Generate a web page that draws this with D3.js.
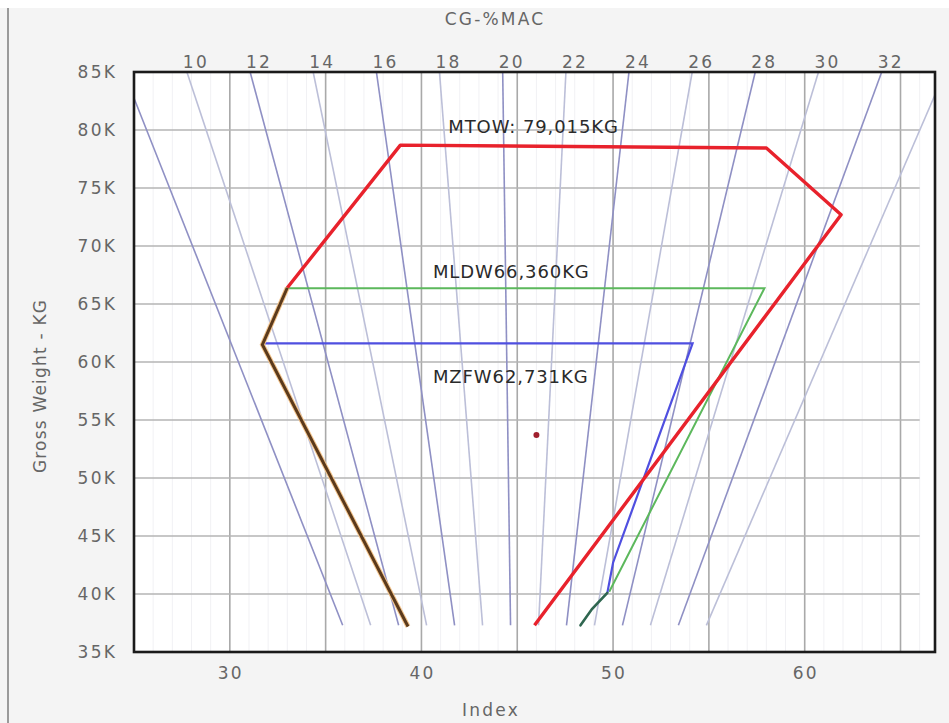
<!DOCTYPE html>
<html>
<head>
<meta charset="utf-8">
<script src="https://cdn.jsdelivr.net/npm/d3@7"></script>
<style>
  body { margin: 0; background: #f4f4f4; }
  svg { display: block; }
</style>
</head>
<body>
<div id="chart"></div>
<script>
// %MAC reference lines: index read at 85K (top) and at 37.3K (bottom end)
var macValues      = [8, 10, 12, 14, 16, 18, 20, 22, 24, 26, 28, 30, 32, 34];
var macTopIndex    = [24.46, 27.76, 31.06, 34.35, 37.65, 40.94, 44.24, 47.54, 50.83, 54.13, 57.42, 60.72, 64.02, 67.31];
var macBottomIndex = [35.89, 37.35, 38.81, 40.27, 41.73, 43.19, 44.65, 46.11, 47.57, 49.03, 50.49, 51.95, 53.41, 54.87];
var macWeights     = [37.3, 85];
var macLabels      = [10, 12, 14, 16, 18, 20, 22, 24, 26, 28, 30, 32];

// axes
var indexTicks  = [30, 40, 50, 60];
var indexGrid   = [30, 35, 40, 45, 50, 55, 60, 65];
var weightTicks = [35, 40, 45, 50, 55, 60, 65, 70, 75, 80, 85];

// envelope lines [index, weight in K]
var mtowLine  = [[45.9, 37.3], [61.9, 72.7], [58.0, 78.45], [38.9, 78.7], [33.0, 66.4]];
var fwdLimit  = [[33.0, 66.4], [31.7, 61.5], [39.3, 37.2]];
var mldwLine  = [[33.0, 66.36], [57.9, 66.36], [49.8, 40.2]];
var mzfwLine  = [[31.8, 61.6], [54.15, 61.6], [50.0, 42.7], [49.7, 40.1]];
var aftLimit  = [[49.7, 40.1], [48.9, 38.7], [48.3, 37.3]];
var cgPoint   = [46.0, 53.7];

var labelTexts  = ["MTOW: 79,015KG", "MLDW66,360KG", "MZFW62,731KG"];
var labelAnchor = [[41.4, 79.7], [40.6, 67.2], [40.6, 58.2]];

function main() {

    var width = 949,
        height = 723;

    var svg = d3.select("#chart").append("svg")
        .attr("width", width)
        .attr("height", height);

    var x = d3.scaleLinear().domain([25, 66.8]).range([134, 935]),
        y = d3.scaleLinear().domain([35, 85]).range([652, 72]);

    // page background: white strip on top, grey line on the left
    svg.append("rect").attr("x", 0).attr("y", 0).attr("width", width).attr("height", 8).attr("fill", "#fff");
    svg.append("line").attr("x1", 8).attr("x2", 8).attr("y1", 8).attr("y2", height)
        .attr("stroke", "#9a9a9a").attr("stroke-width", 2);

    // plot area
    svg.append("rect")
        .attr("x", x(25)).attr("y", y(85))
        .attr("width", x(66.8) - x(25)).attr("height", y(35) - y(85))
        .attr("fill", "#fff");

    svg.append("clipPath").attr("id", "plot")
        .append("rect")
        .attr("x", x(25)).attr("y", y(85))
        .attr("width", x(66.8) - x(25)).attr("height", y(35) - y(85));

    var g = svg.append("g").attr("clip-path", "url(#plot)");

    // faint minor grid
    g.append("g").selectAll("line")
        .data(d3.range(26, 67))
        .enter().append("line")
        .attr("x1", function(d) { return x(d); })
        .attr("x2", function(d) { return x(d); })
        .attr("y1", y(85)).attr("y2", y(35))
        .attr("stroke", "#f1f1f4").attr("stroke-width", 1);

    // major grid
    g.append("g").selectAll("line")
        .data(indexGrid)
        .enter().append("line")
        .attr("x1", function(d) { return x(d); })
        .attr("x2", function(d) { return x(d); })
        .attr("y1", y(85)).attr("y2", y(35))
        .attr("stroke", "#a9a9a9").attr("stroke-width", 1.6);

    g.append("g").selectAll("line")
        .data(weightTicks.slice(1, -1))
        .enter().append("line")
        .attr("x1", x(25)).attr("x2", x(66))
        .attr("y1", function(d) { return y(d); })
        .attr("y2", function(d) { return y(d); })
        .attr("stroke", "#b4b4b4").attr("stroke-width", 1.6);

    // %MAC lines, every other one darker
    g.append("g").selectAll("line")
        .data(macValues)
        .enter().append("line")
        .attr("x1", function(d, i) { return x(macBottomIndex[i]); })
        .attr("y1", y(macWeights[0]))
        .attr("x2", function(d, i) { return x(macTopIndex[i]); })
        .attr("y2", y(macWeights[1]))
        .attr("stroke", function(d) { return d % 4 === 0 ? "#8f90c4" : "#bcbfd8"; })
        .attr("stroke-width", 1.6);

    var line = d3.line()
        .x(function(d) { return x(d[0]); })
        .y(function(d) { return y(d[1]); });

    // envelopes
    g.append("path").datum(mldwLine).attr("d", line)
        .attr("fill", "none").attr("stroke", "#5cb85c").attr("stroke-width", 2);
    g.append("path").datum(mzfwLine).attr("d", line)
        .attr("fill", "none").attr("stroke", "#4f4fe0").attr("stroke-width", 2.2);
    g.append("path").datum(aftLimit).attr("d", line)
        .attr("fill", "none").attr("stroke", "#2f6650").attr("stroke-width", 2.6)
        .attr("stroke-linecap", "round");
    g.append("path").datum(mtowLine).attr("d", line)
        .attr("fill", "none").attr("stroke", "#e8222c").attr("stroke-width", 3.4)
        .attr("stroke-linejoin", "round");
    // forward limit: orange halo with brown core
    g.append("path").datum(fwdLimit).attr("d", line)
        .attr("fill", "none").attr("stroke", "#f3c48c").attr("stroke-width", 5);
    g.append("path").datum(fwdLimit).attr("d", line)
        .attr("fill", "none").attr("stroke", "#5b3a1c").attr("stroke-width", 3);

    // current CG
    g.append("circle")
        .attr("cx", x(cgPoint[0])).attr("cy", y(cgPoint[1]))
        .attr("r", 3).attr("fill", "#a0202e");

    // limit labels
    svg.append("g").selectAll("text")
        .data(labelTexts)
        .enter().append("text")
        .attr("x", function(d, i) { return x(labelAnchor[i][0]); })
        .attr("y", function(d, i) { return y(labelAnchor[i][1]); })
        .attr("font-family", "DejaVu Sans")
        .attr("font-size", 18)
        .attr("letter-spacing", 0.9)
        .attr("fill", "#2a2a2a")
        .text(function(d) { return d; });

    // frame
    svg.append("rect")
        .attr("x", x(25)).attr("y", y(85))
        .attr("width", x(66.8) - x(25)).attr("height", y(35) - y(85))
        .attr("fill", "none").attr("stroke", "#1a1a1a").attr("stroke-width", 2.6);

    var tickStyle = function(sel) {
        sel.attr("font-family", "DejaVu Sans")
            .attr("font-size", 17)
            .attr("letter-spacing", 2.2)
            .attr("fill", "#666");
    };

    // left axis labels
    svg.append("g").selectAll("text")
        .data(weightTicks)
        .enter().append("text")
        .attr("x", 117)
        .attr("y", function(d) { return y(d); })
        .attr("dy", "0.35em")
        .attr("text-anchor", "end")
        .text(function(d) { return d + "K"; })
        .call(tickStyle);

    // bottom axis labels
    svg.append("g").selectAll("text")
        .data(indexTicks)
        .enter().append("text")
        .attr("x", function(d) { return x(d) + 1; })
        .attr("y", 679)
        .attr("text-anchor", "middle")
        .text(function(d) { return d; })
        .call(tickStyle);

    // top %MAC labels, just right of where each line meets the top
    svg.append("g").selectAll("text")
        .data(macLabels)
        .enter().append("text")
        .attr("x", function(d) { return x(macTopIndex[macValues.indexOf(d)]) + 9; })
        .attr("y", 68)
        .attr("text-anchor", "middle")
        .text(function(d) { return d; })
        .call(tickStyle);

    // axis titles
    svg.append("text").attr("x", 495).attr("y", 25)
        .attr("text-anchor", "middle").text("CG-%MAC").call(tickStyle);
    svg.append("text").attr("x", 491).attr("y", 716)
        .attr("text-anchor", "middle").text("Index").call(tickStyle);
    svg.append("text")
        .attr("transform", "translate(46,386) rotate(-90)")
        .attr("text-anchor", "middle").text("Gross Weight - KG").call(tickStyle)
        .attr("letter-spacing", 1.2);
}

main();
</script>
</body>
</html>
